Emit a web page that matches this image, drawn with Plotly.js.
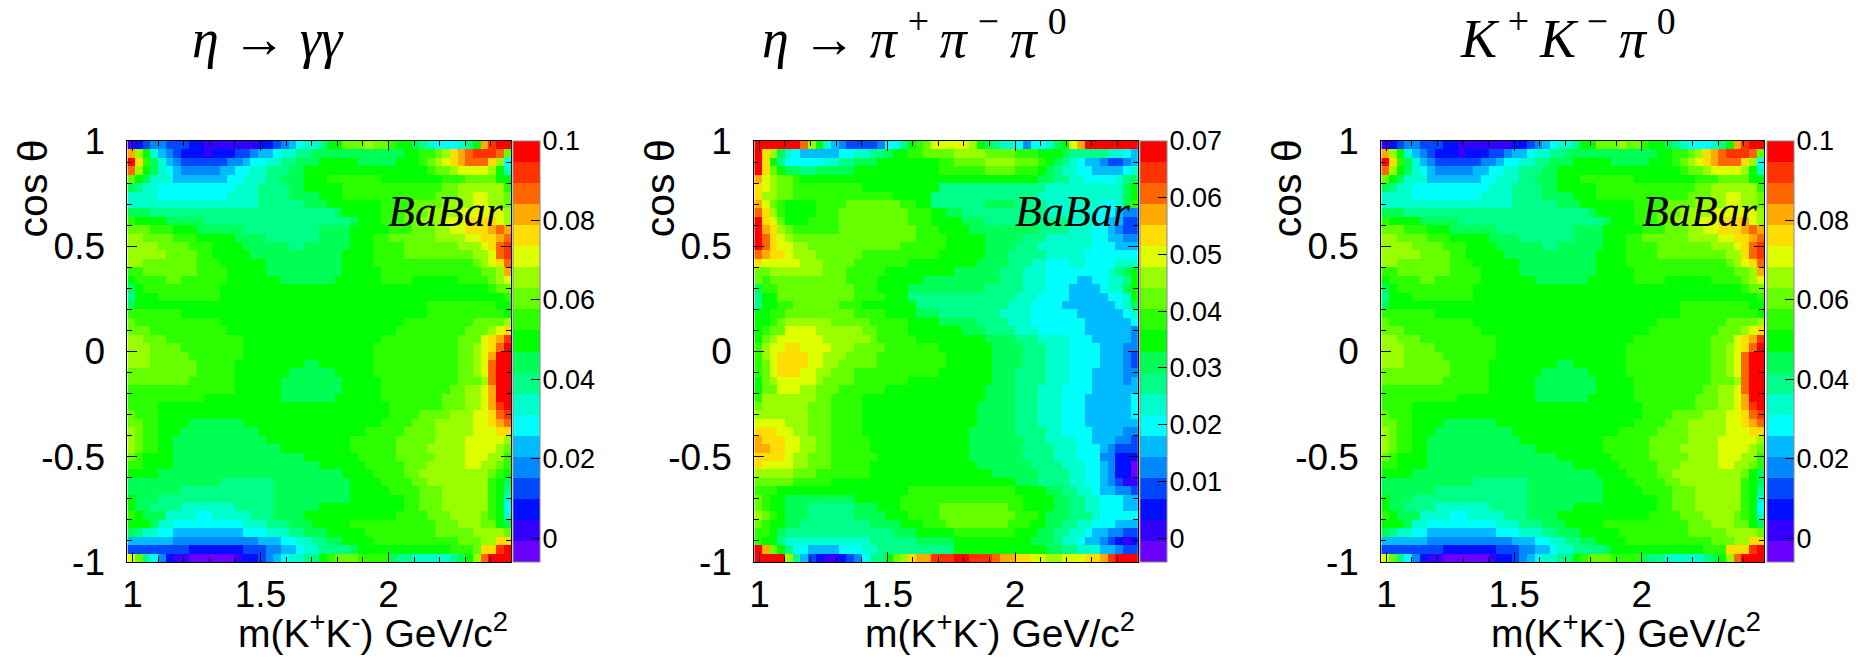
<!DOCTYPE html>
<html><head><meta charset="utf-8">
<script src="https://cdn.plot.ly/plotly-3.0.1.min.js"></script>
<style>html,body{margin:0;padding:0;background:#fff}#c{width:1868px;height:660px}</style>
</head><body><div id="c"></div>
<script>
// Bin centres shared by the three maps
const massStart = 0.995, massStep = 0.03, cosStart = -0.98, cosStep = 0.04;
// Twenty colour bands of the palette, low to high
const bandColors = ['#6a00ff','#3300ff','#0010ff','#0048ff','#0088ff','#00bbff','#00ffff','#00ffcc','#00ff88','#00ff55',
 '#00ff00','#2bff00','#66ff00','#99ff00','#ddff00','#ffdd00','#ffaa00','#ff6600','#ff3300','#ff0000'];
const bandCodes = 'abcdefghijklmnopqrst';
// Each row (top = cos theta near 1) gives, bin by bin, the colour band
const etaGammaGammaRows = [
"bcdeedddcc bbbbbbbccd efghhikkmm mnmmlkkjih ggghikqstt",
"qnkhfedccc bcccddeffg hhiijjjjjj jjjjjjkkll mnpqrsssrm",
"tpljhfeddd dddeefgghh iijjjkkkkk jjjjjkkklm nopqrrrpng",
"rnkjhgfeee eeffgghhii ijjkkkkkkk kkkkkkkkkl mmnoooonkh",
"mkjhhhffff fffgghhhii jjjkkkllll lllkkkkkkk klllmmmmkk",
"jihhgggggg gggghhhiii ijjkkkkkll llllllllll lmmnnnnnnl",
"hhhhgggggg ggghhhhiii ijjjjkkkll llllllllll mmmnnoonnm",
"hhhhhhhhhh hhhhhhhiii iiijjjkkkk kkkllllmmm mnnnnoonnm",
"jjjiiiiiii iiiiiiiiii iiiiiiijkk kkklllmmmn nnnoooooon",
"lkkkkjjjjj iiiiiiiiii iiiiiiiiij kkklllmmnn noooppppon",
"mmmlllkkkj jjjjjiiiii iiiiijjjjk kkkklllmmm nnoopppqrq",
"nnmmmmlllk kkkkjjjjii iiiiijjjjk kkllmmmmmm nnnnooppqr",
"nnnnmmmmll lkkkkjjjjj jiijjjjjjk kkllllmmmm mmmnnnoprs",
"nnnnnmmmml lkkkkkjjjj jjjjjjjjkk kkllllmmmm mmmmmnnors",
"nnmmmmmmml llkkkkkkjj jjjjjjjjkk kkllllllll lllllmnopr",
"llmmmmmmml lllkkkkkjj jjjjjjjjkk kkklllllll llllllmmnq",
"kllllmmlll lllkkkkkkk jjjjjjjkkk kkkllllkkk kkkllllmno",
"jkllllllll llkkkkkkkk kkkkkkkkkk kkkkkkkkkk kkkkkkklmm",
"ikkkllllll llkkkkkkkk kkkkkkkkkk kkkkkkkkkk kkkkkkkkkl",
"jkkkkkkkkk kkkkkkkkkk kkkkkkkkkk kkkkkkkkkl llllllllkk",
"lllllllkkk kkkkkkkkkk kkkkkkkkkk kkkkkkkkkl lllllllllk",
"mlllllllll llkkkkkkkk kkkkkkkkkk kkkkkkllll lllllmmmmn",
"mmmlllllll lllkkkkkkk kkkkkkkkkk kkkkklllll llllmmmnop",
"nnmmmlllll lllllkkkkk kkkkkkkkkk kkklllllll lllmmmopqs",
"nnnmmmmlll lllllkkkkk kkkkkkkkkk kkllllllll lllmmnoprt",
"nnnmmmmmll lllllkkkkk kkkkkkkkkk kkllllllll lllmmnoqtt",
"nnnmmmmmml llllkkkkkk kkkjjkkkkk kkllllllll lllmmnortt",
"mmmmmmmmml llllkkkkkk kjjjjjjkkk kkllllllll lllmmnortt",
"mmmmmmmmll llllkkkkkk jjjjjjjjkk kkklllllll lllmmmnrtt",
"llllllllll llllkkkkkk jjjjjjjjkk kkklllllll llmmnnoqtt",
"llllllllll kkkkkkkkkk jjjjjjjkkk kkklllllll lmmmnnoqtt",
"llllkkkkkk kkkkkkkkkk kkkkkkkkkk kkkkllllll lmmmnnoqst",
"mlllkkkkkk kkkkkkkkkk kkkkkkkkkk kkkkllllmm mmnnnooprs",
"mmllkkkkjj jjjjjkkkkk kkkkkkkkkk kkkllllmmm nnnnnoopqr",
"nmllkkkjjj jjjjjjjkkk kkkkkkkkkk klllllmmmm nnnnnooopp",
"nmllkkjjjj jjjjjjjjkk kkkkkkkkkl lllllmmmmm nnnnooooon",
"nmllkkjjjj jjjjjjjjjj kkkkkkkkkl lllllmmmmn nnnnoooonm",
"mlkkkkjjjj jjjjjjjjjj jjjkkkkkkk lllllmmmmm nnnnooonnl",
"llkkkkjjjj jjjjjjjjjj jjjjjkkkkk klllllmmmn nnnnoonnml",
"kkkkjjjjjj jjjjjjjjjj jjjjjjjjkk kkllllmmnn nnnnnnnmlk",
"jjjjjjjjjj jjiiiiiiij jjjjjjjjjk kkkllllmmn nnnnnnnlkj",
"jjjjjjjiii iiiiiiiiij jjjjjjjjjk kkkkllllmm mnnnnnnlki",
"kjjjiiiiii iiiiiiiiij jjjjjjjjjk kkkkkkllmm mnnnnnnlkh",
"kjjiiiihhh hhhhiiiiij jjjjjkkkkk kkkkkkllmm mnnnnnnlkg",
"lkjjjhhhhg ghhhhhiiij jjjkkkkkkk kkkkkllllm mmnnnnmlkh",
"kkkjhhgggg ggggghhhii ijjjkkkkkl llllllllll mmmnnnmmkj",
"jihhggffff fffffggghh hiijjjkkkk klllllllll mmmmmnnnnm",
"ffffffeeee eeeeeeefff gghhiijjkk kkllllllll lllmmmnnpp",
"ddddddddcc cccccdddee ffghhiiiij kkkkkkkkkk kklllmppst",
"omigecbbaa aaaabccdef ghhiiklmmm lllljiihhh hhijknrttt"];
const etaThreePiRows = [
"ttttttrnkh feddddeggi klmooooonk jihhgegghj koqttttttt",
"tpnjhgffff fgghhiijkk llmmmmnnnn mmmmlllkkk jiiiiihhgf",
"tpkigggggh hiijjjkkkk kkkkllmmmm nnnnmmmlkj ihgffeddef",
"tpmkjjiijj jjjkkkkkkk kkkkllllll mmmmlllkji hhggffffgh",
"qonmmlkkkk kkkkkkkkkk kkkkkkkkkk kkkkkkkjji ihhgggghij",
"ponmmlllll llllkkkkkk kkkkiiiiii iiiiiiiihh hhhhhhhhjk",
"pnnmmlllll llllllllkk kkkiiiiiii iiiiiiihhh hhhhhhhhjk",
"qomlkkkkll llmmmmmmml lkkiiiiiii jjjjiiiihh hhhhhgghjl",
"rpnlkkkkll lmmmmmmmmm lllkkjjiii iiiiiiiihh hhhhgggfee",
"tpomkkklll lmmmmmmmmm lllkkkkjjj iiiiiiiiii ihhhggffdd",
"tqpnmlllll lmmmmmmmmm mlllkkkkjj jjjjjjjiii ihhhggfedd",
"trponmmmmm mmmmmmmmmm mllllkkkkk jjjjjiiihh hhhhggffee",
"trpoonnmmm mmmmmmmmml lllllkkkkk jjjjiiihhh hhhhgggfff",
"rqpponnnmm mmmmllllll llllkkkkkk jjjiiiiihh hhhggggggg",
"pooooonnnm mmmlllllll kkkkkkkkkj jjjiiihhgg ghhgggghhh",
"mmnnnnnnnm mmlllllkkk kkkkkkjjjj jjiiihhhgg gggggghijk",
"mlmmmmmmmm mmllllkkkk kkjjjjjjjj jjiiihhhgg ggffgghhik",
"jllmmmmmmm mmmlllkkkk jjjjjjjjjj iiiiihhhgg gffffghhjk",
"ikkmmmmmmm mmmllllkkk iiiiiiiiii iiiihhhggg gfffffgghk",
"ikkllmmmmm mlllkkkkkk kiiiiiiiii iiihhhgggg fffffffghj",
"kkllmmmmmm mmmllllkkk kjjjiiiiii iihhhhgggg ggffffffgh",
"kklmnnnnnn mmmmmlllll kkkkjjjjji iiihhhgggg gggffffffg",
"klmmoooonn nnnnmmllll kkkkkkkjjj iiiihhhggg gggffffffe",
"kmnoooooon nnnnnmllll lkkkkkkkkk jjjjiiihhh hgggfffffe",
"lnooppoooo nnnmmmmlll llllkkkkkk kjjjjiiihh hggggfffee",
"lnoppppoon nnmmmmllll lllllkkkkk kjjjjiiihh hggggfffed",
"lmoppppoon nmmmmmllll lllllkkkkk kjjjjiiihh hggggfffed",
"lmopppoonn mmmlllllll llllkkkkkk kjjjiiiihh hgggffffee",
"kmnooooonm mmmlllllll kkkkkkkkkk kjjjiiiihh hgggffffef",
"kmmooonnmm mllllllkkk kkkkkkkkkk jjjjiiihhh ggggffffff",
"lnnnnnnnmm llllkkkkkk kkkkkkkkkk jjjjiiihhh gggffffffg",
"mnnnnnnmmm llllkkkkkk kkkkkkkkkj jjjjiiihhh gggffffffg",
"nnnnnnnmmm llllkkkkkk kkkkkkkkkj jjjjiiihhh gggffffffg",
"oooonnnmmm llllkkkkkk kkkkkkkkkj jjjjiiihhh gggfffffff",
"pppoonnmmm llllkkkkkk kkkkkkkkjj jjjjiiiihh ggggffffee",
"qpppoonnmm lllllkkkkk kkkkkkkkjj jjjjjiiihh hhggfffeed",
"qqppoonnmm lllllkkkkk kkkkkkkkjj jjjjjiiiih hhgggfeddd",
"pppponnmmm llllllkkkk kkkkkkkkjj jjjjjiiiih hhgggeeccc",
"poooonnmmm lllllkkkkk kkkkkkkkkj jjjjjjiiii hhhggfecca",
"nnnnnmmmll lllllkkkkk kkkkkkkkkk kjjjjjjiii ihhggfecca",
"mmmmmlllll kkkkkkkkkk kkkkkkkkkk kkkkjjjiii ihhggfedbb",
"lllkkkkkkk kkkkkkkkkk llllllllll llllkkkkjj iihhgffeed",
"mlkkjjjjjj jjjkkkkkkl llllllllll lllllkkkkj jiihhgggff",
"mlkkjjjiii iiijjjkkkl llllmmmmmm mmmllkkkkj jiihhgggff",
"nmlkjjjiii iiijjjjkkk llllmmmmmm mmmmlllkjj jiiihggggg",
"mlkkjjiiii iiiiijjjjk kklllmmmmm mmmlllkkjj iihhgggfff",
"llkjiiiiii iiiiiiiijj jkkkkkllll llllkkkjji ihhgffeedd",
"lkkihhhhhh hhhhhiiiii ijjjjjkkkk kkkkkkjjji hhgffedcbc",
"tqmkiggfff fggghhiiii iiiiiikkkk kkkkkkkkjj iihhhffedd",
"ttttnifdcb bcdegiikmn pqqsssttss srqqppoonn oooppqsttt"];
const kkPiRows = [
"bcdeedddcc bbbbbbbccd efghhikkmm mnmmlkkjih ggghikqstt",
"qnkhfedccc bcccddeffg hhiijjjjjj jjjjjjkkll mnpqrsssrm",
"tpljhfeddd dddeefgghh iijjjkkkkk jjjjjkkklm nopqrrrpng",
"rnkjhgfeee eeffgghhii ijjkkkkkkk kkkkkkkkkl mmnoooonkh",
"mkjhhhffff fffgghhhii jjjkkkllll lllkkkkkkk klllmmmmkk",
"jihhgggggg gggghhhiii ijjkkkkkll llllllllll lmmnnnnnnl",
"hhhhgggggg ggghhhhiii ijjjjkkkll llllllllll mmmnnoonnm",
"hhhhhhhhhh hhhhhhhiii iiijjjkkkk kkkllllmmm mnnnnoonnm",
"jjjiiiiiii iiiiiiiiii iiiiiiijkk kkklllmmmn nnnoooooon",
"lkkkkjjjjj iiiiiiiiii iiiiiiiiij kkklllmmnn nooopppqon",
"mmmlllkkkj jjjjjiiiii iiiiijjjjk kkkklllmmm nnoopppqrq",
"nnmmmmlllk kkkkjjjjii iiiiijjjjk kkllmmmmmm nnnnooppqr",
"nnnnmmmmll lkkkkjjjjj jiijjjjjjk kkllllmmmm mmmnnnoprs",
"nnnnnmmmml lkkkkkjjjj jjjjjjjjkk kkllllmmmm mmmmmnnprs",
"nnmmmmmmml llkkkkkkjj jjjjjjjjkk kkllllllll lllllmnopr",
"llmmmmmmml lllkkkkkjj jjjjjjjjkk kkklllllll llllllmmnq",
"kllllmmlll lllkkkkkkk jjjjjjjkkk kkkllllkkk kkkllllmno",
"jkllllllll llkkkkkkkk kkkkkkkkkk kkkkkkkkkk kkkkkkklmm",
"ikkkllllll llkkkkkkkk kkkkkkkkkk kkkkkkkkkk kkkkkkkkkl",
"jkkkkkkkkk kkkkkkkkkk kkkkkkkkkk kkkkkkkkkl llllllllkk",
"lllllllkkk kkkkkkkkkk kkkkkkkkkk kkkkkkkkkl lllllllllk",
"mlllllllll llkkkkkkkk kkkkkkkkkk kkkkkkllll lllllmmmmn",
"mmmlllllll lllkkkkkkk kkkkkkkkkk kkkkklllll llllmmmnop",
"nnmmmlllll lllllkkkkk kkkkkkkkkk kkklllllll lllmmmopqs",
"nnnmmmmlll lllllkkkkk kkkkkkkkkk kkllllllll lllmmnoprt",
"nnnmmmmmll lllllkkkkk kkkkkkkkkk kkllllllll lllmmnortt",
"nnnmmmmmml llllkkkkkk kkkjjkkkkk kkllllllll lllmmnortt",
"mmmmmmmmml llllkkkkkk kjjjjjjkkk kkllllllll lllmmnortt",
"mmmmmmmmll llllkkkkkk jjjjjjjjkk kkklllllll lllmmmnrtt",
"llllllllll llllkkkkkk jjjjjjjjkk kkklllllll llmmnnortt",
"llllllllll kkkkkkkkkk jjjjjjjkkk kkklllllll lmmmnnoqtt",
"llllkkkkkk kkkkkkkkkk kkkkkkkkkk kkkkllllll lmmmnnoqst",
"mlllkkkkkk kkkkkkkkkk kkkkkkkkkk kkkkllllmm mmnnnooprs",
"mmllkkkkjj jjjjjkkkkk kkkkkkkkkk kkkllllmmm nnnnnoopqr",
"nmllkkkjjj jjjjjjjkkk kkkkkkkkkk klllllmmmm nnnnnooopp",
"nmllkkjjjj jjjjjjjjkk kkkkkkkkkl lllllmmmmm nnnnooooon",
"nmllkkjjjj jjjjjjjjjj kkkkkkkkkl lllllmmmmn nnnnoooonm",
"mlkkkkjjjj jjjjjjjjjj jjjkkkkkkk lllllmmmmm nnnnooonnl",
"llkkkkjjjj jjjjjjjjjj jjjjjkkkkk klllllmmmn nnnnoonnml",
"kkkkjjjjjj jjjjjjjjjj jjjjjjjjkk kkllllmmnn nnnnnnnmkj",
"jjjjjjjjjj jjiiiiiiij jjjjjjjjjk kkkllllmmn nnnnnnnlkj",
"jjjjjjjiii iiiiiiiiij jjjjjjjjjk kkkkllllmm mnnnnnnlki",
"kjjjiiiiii iiiiiiiiij jjjjjjjjjk kkkkkkllmm mnnnnnnlkh",
"kjjiiiihhh hhhhiiiiij jjjjjkkkkk kkkkkkllmm mnnnnnnlkg",
"lkjjjhhhhg ghhhhhiiij jjjkkkkkkk kkkkkllllm mmnnnnmlkh",
"kkkjhhgggg ggggghhhii ijjjkkkkkl llllllllll mmmnnnmmkj",
"jihhggffff fffffggghh hiijjjkkkk klllllllll mmmmmnnnnm",
"ffffffeeee eeeeeeefff gghhiijjkk kkllllllll lllmmmnnpp",
"ddddddddcc cccccdddee ffghhiiiij kkkkkkkkkk kklllpppst",
"omigecbbaa aaaabccdef ghhiiklmmm lllljiihhh hhijknrttt"];
const etaGammaGammaTicks = [0,0.02,0.04,0.06,0.08,0.1];
const etaThreePiTicks = [0,0.01,0.02,0.03,0.04,0.05,0.06,0.07];
const kkPiTicks = [0,0.02,0.04,0.06,0.08,0.1];
const massTicks = [1,1.5,2];
const massTickLabels = ['1','1.5','2'];
const cosTicks = [-1,-0.5,0,0.5,1];
const cosTickLabels = ['-1','-0.5','0','0.5','1'];
const panelTitles = ['<i>η</i> → <i>γγ</i>',
  '<i>η</i> → <i>π</i>\u2009<sup>+</sup>\u2009<i>π</i>\u2009<sup>−</sup>\u2009<i>π</i>\u2009<sup>0</sup>',
  '<i>K</i>\u2009<sup>+</sup>\u2009<i>K</i>\u2009<sup>−</sup>\u2009<i>π</i>\u2009<sup>0</sup>'];

const W=1868,H=660, TOP=141, BOT=562;
const panels=[
 {rows:etaGammaGammaRows,ticks:etaGammaGammaTicks,zmin:-0.006,zmax:0.1,left:127.4,right:511.3,cb:513.2,titleX:190},
 {rows:etaThreePiRows,ticks:etaThreePiTicks,zmin:-0.0042,zmax:0.07,left:754.3,right:1137.8,cb:1140,titleX:760},
 {rows:kkPiRows,ticks:kkPiTicks,zmin:-0.006,zmax:0.1,left:1381.3,right:1764.4,cb:1767,titleX:1458}];
const SANS='"Liberation Sans", Arial, sans-serif', SERIF='"Liberation Serif", "Times New Roman", serif';
const stepped=[];
bandColors.forEach((c,i)=>{stepped.push([i/20,c]);stepped.push([(i+1)/20,c]);});

const traces=[],layout={width:W,height:H,margin:{l:0,r:0,t:0,b:0},paper_bgcolor:'#fff',plot_bgcolor:'#fff',showlegend:false,annotations:[]};
panels.forEach((p,k)=>{
  const n=k?String(k+1):'';
  const band=(p.zmax-p.zmin)/20;
  const z=p.rows.slice().reverse().map(r=>{
    const s=r.replace(/ /g,'');
    return Array.from(s).map(ch=>p.zmin+(bandCodes.indexOf(ch)+0.5)*band);
  });
  traces.push({type:'heatmap',z:z,x0:massStart,dx:massStep,y0:cosStart,dy:cosStep,xaxis:'x'+n,yaxis:'y'+n,
    zmin:p.zmin,zmax:p.zmax,colorscale:stepped,zsmooth:false,hoverinfo:'skip',
    colorbar:{x:p.cb/W,xanchor:'left',xpad:0,ypad:0,y:1-TOP/H,yanchor:'top',lenmode:'pixels',len:BOT-TOP,thicknessmode:'pixels',thickness:27,
      tickmode:'array',tickvals:p.ticks,ticktext:p.ticks.map(String),ticks:'inside',ticklen:9,tickwidth:1,tickcolor:'#000',
      tickfont:{family:SANS,size:27,color:'#000'},outlinewidth:1,outlinecolor:'#888',borderwidth:0}});
  const common={showgrid:false,zeroline:false,showline:true,linecolor:'#000',linewidth:1,mirror:'ticks',ticks:'inside',ticklen:10,tickwidth:1,tickcolor:'#000',
    tickfont:{family:SANS,size:37,color:'#000'},
    minor:{ticks:'inside',ticklen:5,tickwidth:1,tickcolor:'#000',dtick:0.1,showgrid:false}};
  layout['xaxis'+n]=Object.assign({},common,{domain:[p.left/W,p.right/W],range:[0.98,2.48],anchor:'y'+n,tickmode:'array',tickvals:massTicks,ticktext:massTickLabels,ticklabelstandoff:0,minor:Object.assign({},common.minor,{tick0:1})});
  layout['yaxis'+n]=Object.assign({},common,{domain:[1-BOT/H,1-TOP/H],range:[-1,1],anchor:'x'+n,tickmode:'array',tickvals:cosTicks,ticktext:cosTickLabels,ticklabelstandoff:14,minor:Object.assign({},common.minor,{tick0:-1})});
  // panel heading
  layout.annotations.push({xref:'paper',yref:'paper',x:p.titleX/W,y:1-71/H,xanchor:'left',yanchor:'bottom',showarrow:false,text:panelTitles[k],align:'left',
    font:{family:SERIF,size:54,color:'#000'}});
  // x title
  layout.annotations.push({xref:'paper',yref:'paper',x:(p.right-1)/W,y:1-657/H,xanchor:'right',yanchor:'bottom',showarrow:false,
    text:'m(K<sup>+</sup>K<sup>-</sup>) GeV/c<sup>2</sup>',font:{family:SANS,size:39,color:'#000'}});
  // y title
  layout.annotations.push({xref:'paper',yref:'paper',x:(p.left-94)/W,y:1-137/H,xanchor:'center',yanchor:'top',textangle:-90,showarrow:false,
    text:'cos θ',font:{family:SANS,size:41,color:'#000'}});
  // experiment label
  layout.annotations.push({xref:'paper',yref:'paper',x:(p.left+259)/W,y:1-238/H,xanchor:'left',yanchor:'bottom',showarrow:false,
    text:'<i>BaBar</i>',font:{family:SERIF,size:44,color:'#000'}});
});
Plotly.newPlot('c',traces,layout,{displayModeBar:false,staticPlot:true}).then(()=>{
  // colour-bar labels sit slightly closer to the bar in the reference
  document.querySelectorAll('.colorbar .ytick text, .colorbar .cbaxis text').forEach(t=>{
    t.setAttribute('x',(parseFloat(t.getAttribute('x'))||0)-4);
  });
});
</script></body></html>
